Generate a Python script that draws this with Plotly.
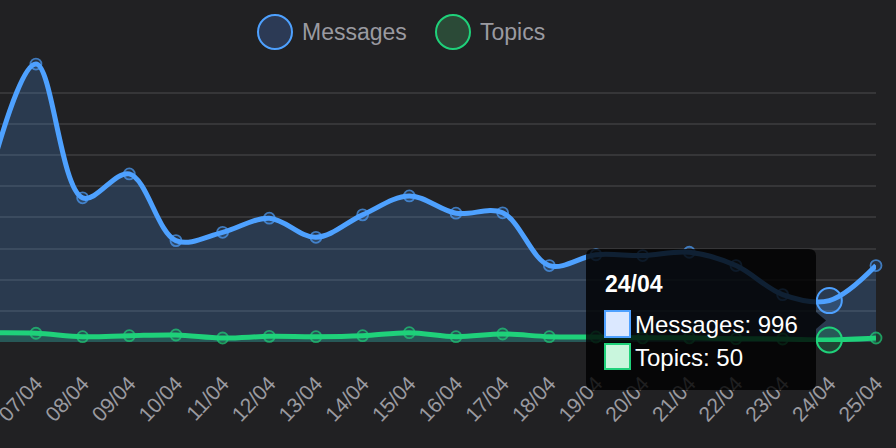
import plotly.graph_objects as go

# ---- data ----
dates = ["06/04", "07/04", "08/04", "09/04", "10/04", "11/04", "12/04", "13/04",
         "14/04", "15/04", "16/04", "17/04", "18/04", "19/04", "20/04", "21/04",
         "22/04", "23/04", "24/04", "25/04"]
messages = [3950, 6690, 3470, 4045, 2440, 2640, 2980, 2520, 3060, 3515,
            3100, 3110, 1840, 2100, 2080, 2160, 1840, 1140, 996, 1840]
topics = [220, 210, 128, 152, 169, 96, 136, 128, 152, 224,
          128, 193, 128, 120, 100, 100, 80, 72, 50, 96]
grid_vals = [0, 750, 1500, 2250, 3000, 3750, 4500, 5250, 6000]
hover_date = "24/04"

BG = "#212123"
BLUE = "#4ea1ff"
GREEN = "#1fd17a"
BLUE_FILL = "rgba(78,161,255,0.2)"
GREEN_FILL = "rgba(31,209,122,0.2)"
TXT = "#9a9aa0"
FONT = "Liberation Sans, Arial, sans-serif"

W, H = 896, 448
ML, MR, MT, MB = 0, 20, 47, 106
PW, PH = W - ML - MR, H - MT - MB


def px(x):
    return (x - ML) / PW


def py(y):
    return (H - MB - y) / PH


hi = dates.index(hover_date)
# the hovered point is drawn big on its own, so hide the small one under it
pt_sizes = [0 if d == hover_date else 11 for d in dates]

fig = go.Figure()

fig.add_trace(go.Scatter(
    x=dates, y=messages, mode="lines+markers", name="Messages",
    line=dict(color=BLUE, width=5, shape="spline", smoothing=1.0),
    fill="tozeroy", fillcolor=BLUE_FILL,
    marker=dict(size=pt_sizes, color=BLUE_FILL, line=dict(color=BLUE, width=1.8)),
    cliponaxis=False, hoverinfo="skip",
))
fig.add_trace(go.Scatter(
    x=dates, y=topics, mode="lines+markers", name="Topics",
    line=dict(color=GREEN, width=5, shape="spline", smoothing=1.0),
    fill="tozeroy", fillcolor=GREEN_FILL,
    marker=dict(size=pt_sizes, color=GREEN_FILL, line=dict(color=GREEN, width=1.8)),
    cliponaxis=False, hoverinfo="skip",
))

# hovered points
fig.add_trace(go.Scatter(
    x=[hover_date], y=[messages[hi]], mode="markers",
    marker=dict(size=25, color=BLUE_FILL, line=dict(color=BLUE, width=2)),
    cliponaxis=False, hoverinfo="skip",
))
fig.add_trace(go.Scatter(
    x=[hover_date], y=[topics[hi]], mode="markers",
    marker=dict(size=25, color=GREEN_FILL, line=dict(color=GREEN, width=2)),
    cliponaxis=False, hoverinfo="skip",
))

shapes = []
annotations = []

# legend (drawn by hand: big point-style circles)
for cx, tx, label, col, fillc in [(275, 300, "Messages", BLUE, "#2c3a55"),
                                   (453, 478, "Topics", GREEN, "#2b4a37")]:
    shapes.append(dict(
        type="circle", xref="paper", yref="paper",
        xsizemode="pixel", ysizemode="pixel",
        xanchor=px(cx), yanchor=py(32), x0=-17, x1=17, y0=-17, y1=17,
        line=dict(color=col, width=2), fillcolor=fillc,
    ))
    annotations.append(dict(
        text=label, xref="paper", yref="paper", x=px(tx), y=py(32),
        xanchor="left", yanchor="middle", showarrow=False,
        font=dict(family=FONT, size=23, color=TXT),
    ))

# tooltip box + caret
x0, x1, y0, y1, r = 586, 816, 249, 390, 7
box = (f"M {x0 + r},{y0} L {x1 - r},{y0} Q {x1},{y0} {x1},{y0 + r} "
       f"L {x1},312 L 826,320.5 L {x1},329 "
       f"L {x1},{y1 - r} Q {x1},{y1} {x1 - r},{y1} L {x0 + r},{y1} "
       f"Q {x0},{y1} {x0},{y1 - r} L {x0},{y0 + r} Q {x0},{y0} {x0 + r},{y0} Z")


def path_to_paper(p):
    out = []
    for tok in p.split(" "):
        if "," in tok:
            a, b = tok.split(",")
            out.append(f"{px(float(a))},{py(float(b))}")
        else:
            out.append(tok)
    return " ".join(out)


shapes.append(dict(type="path", xref="paper", yref="paper", path=path_to_paper(box),
                   fillcolor="rgba(0,0,0,0.8)", line=dict(width=0), layer="above"))

# tooltip swatches
for ya, yb, fc, lc in [(311, 337, "#dbe8ff", BLUE), (344, 369, "#c9f6dd", GREEN)]:
    shapes.append(dict(type="rect", xref="paper", yref="paper",
                       x0=px(605), x1=px(630), y0=py(yb), y1=py(ya),
                       fillcolor=fc, line=dict(color=lc, width=2), layer="above"))

annotations.append(dict(
    text=f"<b>{hover_date}</b>", xref="paper", yref="paper", x=px(603), y=py(284),
    xanchor="left", yanchor="middle", showarrow=False,
    font=dict(family=FONT, size=23, color="white"),
))
annotations.append(dict(
    text=f"Messages: {messages[hi]}", xref="paper", yref="paper", x=px(633), y=py(324),
    xanchor="left", yanchor="middle", showarrow=False,
    font=dict(family=FONT, size=24, color="white"),
))
annotations.append(dict(
    text=f"Topics: {topics[hi]}", xref="paper", yref="paper", x=px(633), y=py(357),
    xanchor="left", yanchor="middle", showarrow=False,
    font=dict(family=FONT, size=24, color="white"),
))

fig.update_xaxes(
    type="category", range=[0.23, len(dates) - 1],
    showgrid=False, zeroline=False, showline=False,
    tickangle=-47, tickfont=dict(family=FONT, size=21, color=TXT),
    ticks="", ticklabelstandoff=24, automargin=False,
)
fig.update_yaxes(
    range=[0, 7100], tickmode="array", tickvals=grid_vals,
    showticklabels=False, showgrid=True, gridcolor="#363638", gridwidth=1.5,
    zeroline=False, showline=False, automargin=False,
)

fig.update_layout(
    width=W, height=H,
    margin=dict(l=ML, r=MR, t=MT, b=MB, pad=0),
    paper_bgcolor=BG, plot_bgcolor=BG,
    showlegend=False,
    shapes=shapes, annotations=annotations,
    font=dict(family=FONT),
)

# drop the browser's default page margin so the figure fills the window
fig.write_html(
    "out.html",
    config={"displayModeBar": False},
    post_script="document.body.style.margin='0';document.body.style.background='#212123';",
)
